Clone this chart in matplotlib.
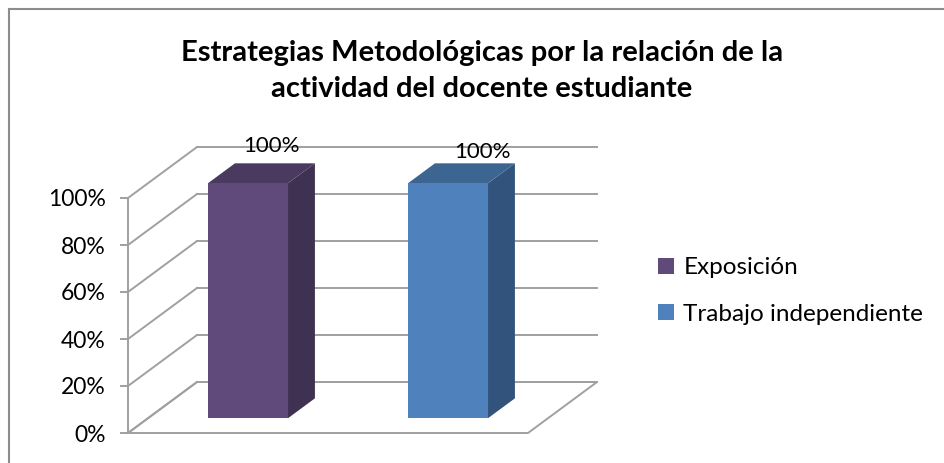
import matplotlib.pyplot as plt
from matplotlib.patches import Polygon, Patch
from matplotlib.lines import Line2D

plt.rcParams['font.family'] = ['Lato', 'DejaVu Sans']

title = "Estrategias Metodológicas por la relación de la\nactividad del docente estudiante"
series = ["Exposición", "Trabajo independiente"]
values = [100, 100]
label_text = ["100%", "100%"]
yticks = [0, 20, 40, 60, 80, 100]
ytick_labels = ["0%", "20%", "40%", "60%", "80%", "100%"]

front_colors = ["#604A7B", "#4F81BD"]
side_colors = ["#3F3151", "#32547C"]
top_colors = ["#4A3A5F", "#3D6592"]
grid_color = "#A0A0A0"

# fake 3d depth offset in data units
DX, DY = 0.345, 21.7


def proj(x, y, d):
    return (x + d * DX, y + d * DY)


fig = plt.figure(figsize=(9.44, 4.63), dpi=100)
ax = fig.add_axes([128 / 944, 30 / 463, 400 / 944, 235 / 463])
ax.set_xlim(0, 2)
ax.set_ylim(0, 100)
ax.set_facecolor("none")
for s in ["top", "right", "bottom"]:
    ax.spines[s].set_visible(False)
ax.spines["left"].set_color(grid_color)
ax.spines["left"].set_linewidth(1.4)
ax.set_xticks([])
ax.set_yticks(yticks)
ax.set_yticklabels(ytick_labels, fontsize=16.5)
ax.tick_params(axis="y", length=6, width=1.4, color=grid_color, pad=10)

# back wall gridlines and side wall diagonals
for t in yticks:
    x0, y0 = proj(0, t, 1)
    x1, y1 = proj(2, t, 1)
    ax.plot([x0, x1], [y0, y1], color=grid_color, lw=1.4, clip_on=False)
    fx, fy = proj(0, t, 0)
    ax.plot([fx, x0], [fy, y0], color=grid_color, lw=1.4, clip_on=False)

# floor
floor = [proj(0, 0, 0), proj(2, 0, 0), proj(2, 0, 1), proj(0, 0, 1)]
ax.add_patch(Polygon(floor, closed=True, facecolor="white", edgecolor=grid_color,
                     lw=1.4, clip_on=False, zorder=1))

# bars
centers = [0.5, 1.5]
w = 0.4
d0, d1 = 0.29, 0.68
for i, v in enumerate(values):
    xl, xr = centers[i] - w / 2, centers[i] + w / 2
    front = [proj(xl, 0, d0), proj(xr, 0, d0), proj(xr, v, d0), proj(xl, v, d0)]
    side = [proj(xr, 0, d0), proj(xr, 0, d1), proj(xr, v, d1), proj(xr, v, d0)]
    top = [proj(xl, v, d0), proj(xr, v, d0), proj(xr, v, d1), proj(xl, v, d1)]
    ax.add_patch(Polygon(side, closed=True, facecolor=side_colors[i], edgecolor="none",
                         clip_on=False, zorder=3))
    ax.add_patch(Polygon(top, closed=True, facecolor=top_colors[i], edgecolor="none",
                         clip_on=False, zorder=3))
    ax.add_patch(Polygon(front, closed=True, facecolor=front_colors[i], edgecolor="none",
                         clip_on=False, zorder=4))

# data labels
label_pos = [(0.715, 122.0), (1.77, 119.6)]
for (lx, ly), txt in zip(label_pos, label_text):
    ax.text(lx, ly, txt, ha="center", va="center", fontsize=16, zorder=5, clip_on=False)

fig.text(482 / 944, 1 - 71 / 463, title, ha="center", va="center", fontsize=21,
         fontweight="bold", linespacing=1.45)

handles = [Patch(facecolor=c, edgecolor="none") for c in front_colors]
fig.legend(handles, series, loc="center left", bbox_to_anchor=(636 / 944, 1 - 291 / 463),
           frameon=False, fontsize=17.5, handlelength=0.65, handleheight=0.65,
           handletextpad=0.4, labelspacing=1.05)

# chart area border (top and left only visible)
fig.add_artist(Line2D([9 / 944, 1], [1 - 9 / 463, 1 - 9 / 463], transform=fig.transFigure,
                      color="#8C8C8C", lw=1.5))
fig.add_artist(Line2D([9 / 944, 9 / 944], [0, 1 - 9 / 463], transform=fig.transFigure,
                      color="#8C8C8C", lw=1.5))

fig.savefig("out.png", dpi=100)
